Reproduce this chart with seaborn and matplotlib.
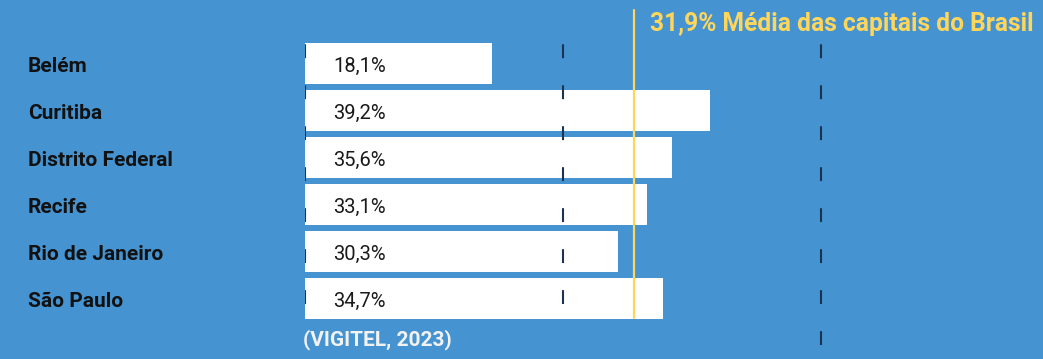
import matplotlib
matplotlib.use("Agg")
import matplotlib.pyplot as plt
import matplotlib.transforms as mtransforms
import seaborn as sns
import pandas as pd

# ---- data ----
cities = ["Belém", "Curitiba", "Distrito Federal", "Recife", "Rio de Janeiro", "São Paulo"]
values = [18.1, 39.2, 35.6, 33.1, 30.3, 34.7]
average_value = 31.9
average_label = "Média das capitais do Brasil"
grid_ticks = [0, 25, 50]
source_text = "(VIGITEL, 2023)"

BG = "#4594D1"
YELLOW = "#FFD55A"
DASH = "#1B3350"

sns.set_theme(style="white")
plt.rcParams["lines.scale_dashes"] = False
plt.rcParams["font.family"] = ["Roboto", "DejaVu Sans"]

W, H = 1043, 359
fig = plt.figure(figsize=(W / 100, H / 100), dpi=100)
fig.patch.set_facecolor(BG)

x0_px = 305
px_per_unit = (563 - 305) / 25.0
ax = fig.add_axes([x0_px / W, 0, (W - x0_px) / W, 1])
ax.set_facecolor(BG)

df = pd.DataFrame({"city": cities, "value": values})
sns.barplot(data=df, x="value", y="city", orient="h", color="white",
            saturation=1, width=0.872, ax=ax, zorder=1)
for p in ax.patches:
    p.set_edgecolor("none")
    p.set_linewidth(0)

ax.set_xlim(0, (W - x0_px) / px_per_unit)
top_center = 63.5
spacing = 47.0
ax.set_ylim((H - top_center) / spacing, -top_center / spacing)

for s in ax.spines.values():
    s.set_visible(False)
ax.set_xticks([])
ax.set_yticks([])
ax.set_xlabel("")
ax.set_ylabel("")

# dashed guide lines
for t in grid_ticks:
    bottom_px = 345 if t == grid_ticks[-1] else 304
    ax.axvline(t, ymin=(H - bottom_px) / H, ymax=(H - 44) / H, color=DASH,
               lw=1.5, linestyle=(0, (10.0, 19.5)), zorder=3)

# average line
ax.axvline(average_value, ymin=(H - 318) / H, ymax=(H - 10) / H,
           color=YELLOW, lw=1.6, zorder=4)
avg_str = f"{average_value:.1f}".replace(".", ",") + "% " + average_label
ax.annotate(avg_str, xy=(average_value, (H - 24) / H),
            xycoords=("data", "axes fraction"),
            xytext=(16, 0), textcoords="offset pixels",
            ha="left", va="center", color=YELLOW, fontsize=17.7,
            fontweight="bold", annotation_clip=False)

# city labels
trans = mtransforms.blended_transform_factory(fig.transFigure, ax.transData)
for i, c in enumerate(cities):
    ax.text(28 / W, i + 0.07, c, transform=trans, ha="left", va="center",
            fontsize=15, fontweight="bold", color="#111111", clip_on=False)

# value labels
for i, v in enumerate(values):
    lbl = f"{v:.1f}".replace(".", ",") + "%"
    ax.annotate(lbl, xy=(0, i + 0.07), xytext=(28, 0), textcoords="offset pixels",
                ha="left", va="center", fontsize=14.5, color="#1a1a1a", zorder=5)

# source
ax.annotate(source_text, xy=(0, (H - 340) / H), xycoords=("data", "axes fraction"),
            xytext=(-2, 0), textcoords="offset pixels", ha="left", va="center",
            fontsize=15, fontweight="bold", color="#F2F2F2", annotation_clip=False)

fig.savefig("out.png", dpi=100, facecolor=BG)
